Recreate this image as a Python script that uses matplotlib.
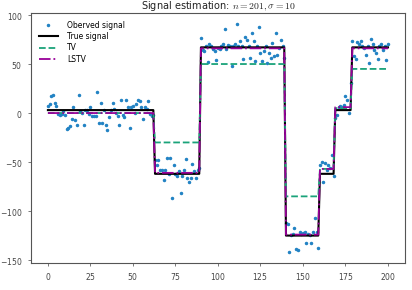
import numpy as np
import matplotlib
matplotlib.use("Agg")
import matplotlib.pyplot as plt

plt.rcParams['mathtext.fontset'] = 'cm'
plt.rcParams['axes.formatter.use_mathtext'] = True
plt.rcParams['font.family'] = ['DejaVu Sans']

# segment lengths along x = 0..200
seg_len = [63, 27, 50, 20, 9, 10, 22]
true_lv = [3, -62, 67, -125, -62, 3, 67]
tv_lv = [0, -30, 50, -85, -57, 5, 45]
lstv_lv = [0, -61, 66, -124, -57, 6, 66]

observed = [
    7.5, 9, 17, 18, 10, 7.5, -1, -2, -1, 2.5, -2, -16, -15, -13, -6, 6,
    -7, -12, 18, 2, 0, -12, 3, 3, -1, 6, -3, -3, -3, 21, -10, 10, -10, 3,
    -12, -17, -4, 3, 10, 4, 0, -3, -12, 13.6, -2, -4, 13.6, 6, -15, 6, 7,
    0, 9.5, 13, 12.6, 6, -6, 6, 3.7, 12.6, -1, -3, -2,
    -48, -52.6, -47.5, -58, -58, -68, -58, -46, -62, -46, -87, -53, -62,
    -64.6, -59.5, -81.6, -64, -58, -46.6, -66, -70, -66, -52, -59.5, -66,
    -58, -56,
    76.5, 64, 63, 68, 52, 70, 68, 65, 63, 54, 66, 65, 68, 70, 86, 65, 69,
    68, 47.6, 68.7, 70, 91, 68, 73, 68, 55, 78, 74, 68, 56, 81.6, 73, 53,
    68, 88, 61, 52.7, 63, 68, 51, 61, 56, 71, 58, 82, 59.5, 66, 75, 68, 56,
    -112, -113, -142, -124, -123.5, -117, -138.5, -139.5, -121.5, -123.5,
    -122.6, -121.5, -132.7, -123.5, -124, -132.7, -121.5, -107, -121.5,
    -137.8,
    -53, -50, -70, -51, -58, -53, -56, -43, -64,
    -5, -2, 6, 7, 6, 8.5, 17, 13.6, 0, 30.6,
    73, 58, 55, 72, 70, 73, 68, 66, 59.5, 68, 51, 75.5, 70, 64.6, 61, 55,
    68, 70, 64.6, 68, 54.4, 70.7,
]

x = np.arange(sum(seg_len))
true_sig = np.repeat(true_lv, seg_len)
tv = np.repeat(tv_lv, seg_len)
lstv = np.repeat(lstv_lv, seg_len)

fig = plt.figure(figsize=(4.12, 2.9), dpi=100)
ax = fig.add_axes([0.075, 0.093, 0.908, 0.862])

ax.plot(x, observed, '.', color='#2383c4', ms=3, label='Oberved signal')
ax.plot(x, true_sig, color='black', lw=1.5, label='True signal')
ax.plot(x, tv, '--', color='#1aa37a', lw=1.3, label='TV')
ax.plot(x, lstv, '-.', color='#990099', lw=1.3, label='LSTV')

ax.set_xlim(-10, 210)
ax.set_ylim(-153, 102)
ax.set_xticks(np.arange(0, 201, 25))
ax.set_yticks(np.arange(-150, 101, 50))
ax.tick_params(labelsize=5.5, length=2, width=0.5, pad=4,
               colors='#444444')
for s in ax.spines.values():
    s.set_color('#555555')
    s.set_linewidth(0.8)

ax.set_title(r'Signal estimation: $n = 201, \sigma = 10$', fontsize=7, pad=3,
             color='#222222')
ax.legend(loc='upper left', frameon=False, fontsize=5.5, handlelength=2.5,
          borderaxespad=0.6, labelspacing=0.3, handletextpad=1.2)

fig.savefig('out.png', dpi=100)
